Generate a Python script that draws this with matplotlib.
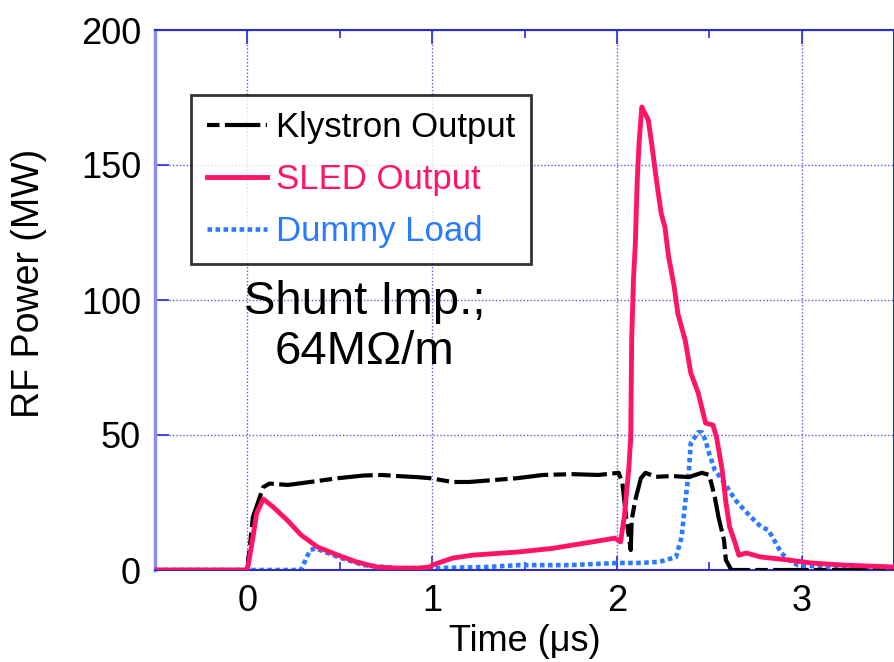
import matplotlib
matplotlib.use("Agg")
import matplotlib.pyplot as plt
from matplotlib.ticker import MultipleLocator

# ---- data (time in microseconds, power in MW) ----
kly_t = [-0.5, 0.0, 0.03, 0.086, 0.12, 0.22, 0.34, 0.49, 0.63, 0.73, 0.81, 0.92, 0.99,
         1.11, 1.2, 1.46, 1.6, 1.76, 1.9, 2.01, 2.03, 2.05, 2.075, 2.08, 2.1, 2.13, 2.155,
         2.21, 2.3, 2.39, 2.46, 2.5, 2.53, 2.55, 2.58, 2.59, 2.62, 3.5]
kly_p = [0, 0, 19.6, 30.7, 32, 31.5, 32.6, 34, 35, 35.2, 34.8, 34.4, 34,
         32.6, 32.6, 34, 35.2, 35.5, 35.2, 36, 32, 19.6, 7.4, 18.5, 26, 34, 36,
         34.5, 34.8, 34.4, 36, 35.2, 27, 19.6, 11, 3.7, 0, 0]

sled_t = [-0.5, 0.0, 0.03, 0.05, 0.086, 0.14, 0.215, 0.29, 0.38, 0.49, 0.59, 0.70, 0.81,
          0.92, 0.99, 1.0, 1.11, 1.22, 1.47, 1.65, 1.83, 1.99, 2.02, 2.04, 2.065, 2.075,
          2.08, 2.09, 2.10, 2.11, 2.12, 2.135, 2.145, 2.17, 2.19, 2.215, 2.24, 2.26, 2.28,
          2.31, 2.33, 2.37, 2.40, 2.44, 2.48, 2.52, 2.54, 2.57, 2.59, 2.61, 2.64, 2.66,
          2.70, 2.78, 2.93, 3.05, 3.23, 3.5]
sled_p = [0, 0, 12, 21, 26.3, 23.3, 18.5, 13, 8.5, 5.5, 3, 1.1, 0.7,
          0.7, 1.1, 1.8, 4.4, 5.5, 6.7, 8, 10, 11.8, 10.4, 19.6, 38, 49,
          85, 108, 121, 144, 158, 171.5, 170, 166.7, 157, 144, 132, 127, 116,
          105, 95, 85, 73, 65.6, 54.4, 53.7, 49, 37, 25, 16, 10, 5.5,
          6.3, 4.8, 3.7, 2.6, 1.8, 1.1]

dummy_t = [-0.5, 0.29, 0.34, 0.37, 0.49, 0.63, 0.81, 0.99, 1.29, 1.47, 1.74, 2.01, 2.12,
           2.23, 2.32, 2.35, 2.37, 2.39, 2.40, 2.44, 2.46, 2.48, 2.50, 2.53, 2.59, 2.64,
           2.72, 2.78, 2.82, 2.86, 2.89, 2.93, 2.98, 3.14, 3.5]
dummy_p = [0, 0, 7.4, 8, 4.8, 1.8, 0.7, 0.7, 1.1, 1.8, 1.8, 2.6, 2.6,
           3, 4.8, 12, 25, 37, 47, 51, 51, 48, 43, 37, 31.5, 26,
           20, 16, 14.8, 10, 6.3, 3.7, 1.8, 1.1, 0.7]

series_labels = ["Klystron Output", "SLED Output", "Dummy Load"]
x_ticks = [0, 1, 2, 3]
y_ticks = [0, 50, 100, 150, 200]

RED = "#ff1468"
BLUE = "#2a7bff"
AXC = "#2b2bd8"

plt.rcParams['font.family'] = ['Liberation Sans', 'DejaVu Sans']

fig = plt.figure(figsize=(8.94, 6.62), dpi=100)
ax = fig.add_axes([155/894, 92/662, 739/894, 540/662])

ax.plot(kly_t, kly_p, color="black", lw=3.0, linestyle=(0, (3, 1.3, 8.5, 1.3)),
        label=series_labels[0], zorder=3)
ax.plot(sled_t, sled_p, color=RED, lw=3.5, label=series_labels[1], zorder=4)
ax.plot(dummy_t, dummy_p, color=BLUE, lw=3.3, linestyle=(0, (1.0, 0.75)),
        dash_capstyle='butt', label=series_labels[2], zorder=2)

ax.set_xlim(-0.5, 3.5)
ax.set_ylim(0, 200)
ax.set_xticks(x_ticks)
ax.set_yticks(y_ticks)
ax.xaxis.set_minor_locator(MultipleLocator(0.5))
ax.grid(True, which='major', linestyle=(0, (1, 1.5)), color="#5a5ae6", lw=1.0)
ax.tick_params(axis='both', which='major', direction='in', length=10, width=1.2,
               color=AXC, top=True, labelsize=26, pad=10)
ax.tick_params(axis='x', which='minor', direction='in', length=6, width=1.2,
               color=AXC, top=True)
for name, sp in ax.spines.items():
    sp.set_color(AXC)
    sp.set_linewidth(1.5)
ax.spines['left'].set_color("#8c8cf0")
ax.spines['left'].set_linewidth(2.5)

ax.set_xlabel("Time (\u03bcs)", fontsize=26, labelpad=4)
ax.set_ylabel("RF Power (MW)", fontsize=27)
ax.yaxis.set_label_coords(-0.146, 0.53)

ax.text(0.636, 90.0, "Shunt Imp.;\n64M\u03a9/m", fontsize=34, ha='center', va='center',
        linespacing=1.2, zorder=5)

leg = ax.legend(loc='upper left', bbox_to_anchor=(0.0487, 0.879), fontsize=25,
                frameon=True, fancybox=False, edgecolor='black', labelcolor='linecolor',
                handlelength=1.75, handletextpad=0.25, labelspacing=0.55, borderpad=0.45,
                borderaxespad=0)
leg.get_frame().set_linewidth(2)
leg.set_zorder(6)

fig.savefig("out.png", dpi=100)
